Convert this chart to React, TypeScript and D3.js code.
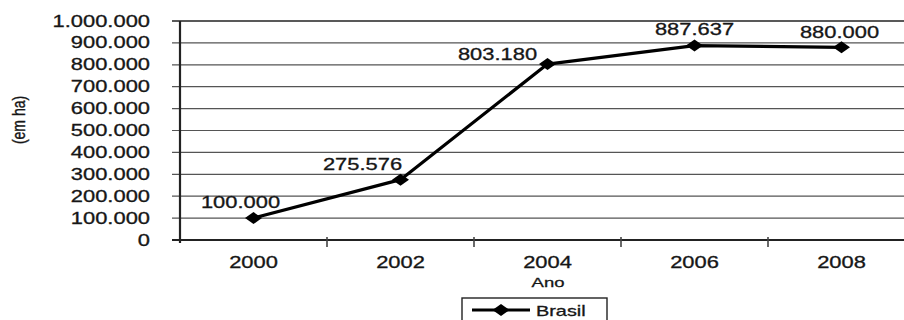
import { useEffect, useRef } from 'react';
import * as d3 from 'd3';

const years = ['2000', '2002', '2004', '2006', '2008'];
const area = [100000, 275576, 803180, 887637, 880000];
const yTicks = [0, 100000, 200000, 300000, 400000, 500000, 600000, 700000, 800000, 900000, 1000000];
const seriesName = 'Brasil';

// hand-placed label offsets, like the original
const labelShift: [number, number][] = [[-13, -10], [-38, -10], [-50, -4], [0, -11], [-2, -9]];

const stretch = 1.37;
const font = '"Liberation Sans", Arial, sans-serif';
const ink = '#161616';

const fmt = (v: number) => d3.format(',')(v).replace(/,/g, '.');

function App() {
    const ref = useRef<SVGSVGElement>(null);

    useEffect(() => {
        const width = 904, height = 320;
        const margin = {top: 21, left: 180, bottom: 80};
        const svg = d3.select(ref.current);
        svg.selectAll('*').remove();

        const x = d3.scaleBand().domain(years).range([margin.left, margin.left + 147 * years.length]);
        const y = d3.scaleLinear().domain([0, 1000000]).range([height - margin.bottom, margin.top]);

        // stretched text like the source image
        const label = (g: any, tx: number, ty: number, text: string, size: number, anchor = 'middle') =>
            g.append('text')
                .attr('transform', `translate(${tx},${ty}) scale(${stretch},1)`)
                .attr('text-anchor', anchor)
                .attr('font-family', font)
                .attr('font-size', size)
                .attr('fill', ink)
                .attr('stroke', ink)
                .attr('stroke-width', 0.3)
                .text(text);

        // grid
        svg.append('g').selectAll('line')
            .data(yTicks.slice(1))
            .enter().append('line')
            .attr('x1', margin.left - 8).attr('x2', width)
            .attr('y1', d => y(d)).attr('y2', d => y(d))
            .attr('stroke', d => d === 1000000 ? '#222' : '#555')
            .attr('stroke-width', d => d === 1000000 ? 1.6 : 1.2);

        // y labels
        const yl = svg.append('g');
        for (const t of yTicks) label(yl, 150, y(t) + 5.5, fmt(t), 16, 'end');

        // axes
        svg.append('line')
            .attr('x1', margin.left).attr('x2', margin.left)
            .attr('y1', margin.top).attr('y2', y(0) + 3)
            .attr('stroke', '#222').attr('stroke-width', 2.2);
        svg.append('line')
            .attr('x1', margin.left - 8).attr('x2', width)
            .attr('y1', y(0)).attr('y2', y(0))
            .attr('stroke', '#222').attr('stroke-width', 1.8);
        svg.append('g').selectAll('line')
            .data(years.slice(1))
            .enter().append('line')
            .attr('x1', d => x(d)!).attr('x2', d => x(d)!)
            .attr('y1', y(0) - 3).attr('y2', y(0) + 7)
            .attr('stroke', '#444').attr('stroke-width', 1.6);

        const xl = svg.append('g');
        for (const yr of years) label(xl, x(yr)! + x.bandwidth() / 2, 268, yr, 16);
        label(svg, 548, 287, 'Ano', 13.5);

        svg.append('text')
            .attr('transform', `translate(25,120) rotate(-90) scale(1,${stretch})`)
            .attr('text-anchor', 'middle')
            .attr('font-family', font)
            .attr('font-size', 14)
            .attr('fill', ink)
            .attr('stroke', ink)
            .attr('stroke-width', 0.3)
            .text('(em ha)');

        // series
        const cx = (i: number) => x(years[i])! + x.bandwidth() / 2;
        const line = d3.line<number>().x((d, i) => cx(i)).y(d => y(d));
        svg.append('path')
            .attr('d', line(area))
            .attr('fill', 'none')
            .attr('stroke', '#000')
            .attr('stroke-width', 3.2)
            .attr('stroke-linejoin', 'round');

        const diamond = (hw: number, hh: number) => `M0,${-hh}L${hw},0L0,${hh}L${-hw},0Z`;
        svg.append('g').selectAll('path')
            .data(area)
            .enter().append('path')
            .attr('transform', (d, i) => `translate(${cx(i)},${y(d)})`)
            .attr('d', diamond(8.5, 6))
            .attr('fill', '#000');

        const dl = svg.append('g');
        area.forEach((v, i) => label(dl, cx(i) + labelShift[i][0], y(v) + labelShift[i][1], fmt(v), 16));

        // legend
        const lg = svg.append('g');
        lg.append('rect')
            .attr('x', 462).attr('y', 298).attr('width', 145).attr('height', 30)
            .attr('fill', '#fff').attr('stroke', '#222').attr('stroke-width', 1.4);
        lg.append('line')
            .attr('x1', 472).attr('x2', 530).attr('y1', 310).attr('y2', 310)
            .attr('stroke', '#000').attr('stroke-width', 3.2);
        lg.append('path')
            .attr('transform', 'translate(501,310)')
            .attr('d', diamond(8.5, 6))
            .attr('fill', '#000');
        label(lg, 536, 315.5, seriesName, 14.5, 'start');
    }, []);

    return (
        <svg ref={ref} width={904} height={320}
            style={{position: 'absolute', left: 0, top: 0, background: '#fff'}} />
    );
}

export default App;
